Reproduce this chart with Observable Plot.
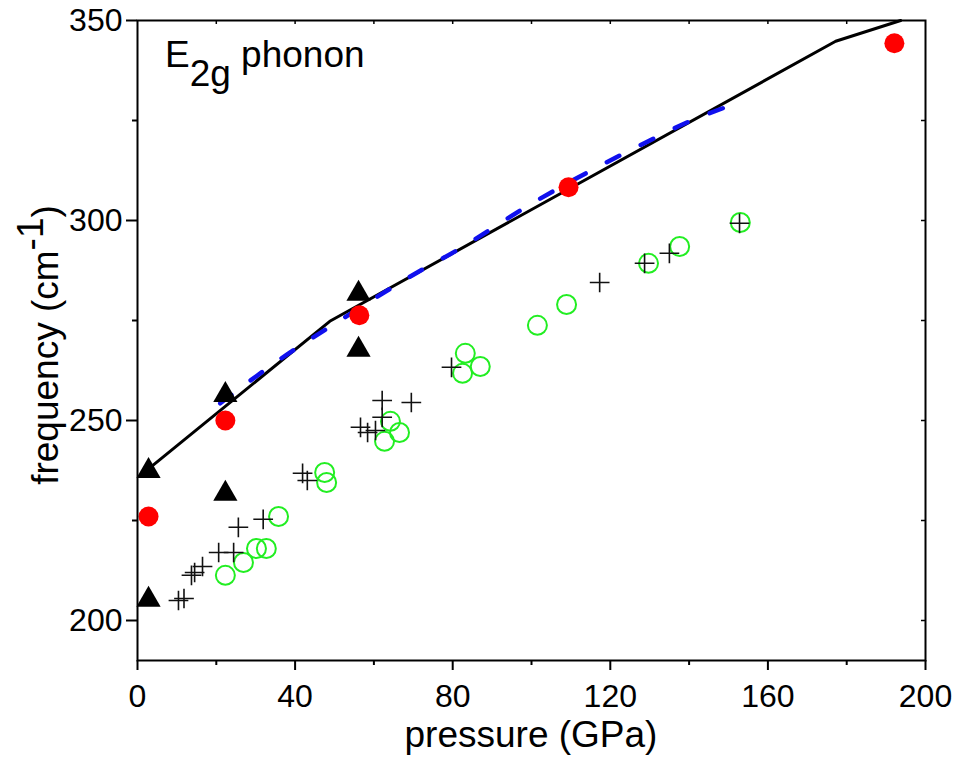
<!DOCTYPE html>
<html>
<head>
<meta charset="utf-8">
<script src="https://cdn.jsdelivr.net/npm/d3@7"></script>
<script src="https://cdn.jsdelivr.net/npm/@observablehq/plot@0.6"></script>
<style>
  html, body { margin: 0; padding: 0; background: #fff; }
  svg { display: block; }
</style>
</head>
<body>
<div id="chart"></div>
<script>
// ---- data (pressure in GPa, frequency in cm^-1) ----
const redP = [2.8, 22.3, 56.3, 109.4, 192.1];
const redF = [226.0, 250.0, 276.3, 308.3, 344.3];

const triP = [2.8, 2.8, 22.3, 22.3, 56.1, 56.1];
const triF = [237.4, 205.2, 256.4, 231.7, 281.7, 267.7];

const greenP = [22.3, 26.9, 30.2, 32.7, 35.8, 47.5, 48.0, 62.7, 64.2, 66.5, 82.5, 83.2, 87.0, 101.5, 108.9, 129.7, 137.6, 153.0];
const greenF = [211.3, 214.5, 218.0, 218.0, 226.0, 237.0, 234.5, 244.8, 249.8, 247.0, 261.8, 266.8, 263.5, 273.8, 279.0, 289.3, 293.5, 299.5];

const plusP = [10.4, 11.8, 13.7, 14.5, 16.5, 20.6, 24.4, 25.6, 31.9, 41.9, 43.1, 56.6, 58.4, 60.4, 62.1, 62.1, 69.5, 79.7, 117.3, 128.7, 135.0, 152.8];
const plusF = [205.0, 205.5, 211.3, 212.0, 213.5, 217.0, 217.0, 223.3, 225.3, 236.8, 235.0, 248.3, 247.0, 247.5, 255.0, 250.8, 254.5, 263.3, 284.5, 289.3, 291.8, 299.3];

const blackLineP = [2.8, 48.8, 177.2, 193.7];
const blackLineF = [237.9, 274.8, 344.8, 350.0];

const blueLineP = [21, 35, 52, 71, 81, 100, 119, 129, 139, 152];
const blueLineF = [254.3, 264.5, 275.4, 287.0, 292.5, 304.2, 314.5, 319.5, 324.3, 329.3];

const xMajor = [0, 40, 80, 120, 160, 200];
const xMinor = [20, 60, 100, 140, 180];
const yMajor = [200, 250, 300, 350];
const yMinor = [225, 275, 325];
const topTicks = [20, 40, 60, 80, 100, 120, 140, 160, 180];
const rightTicks = [200, 225, 250, 275, 300, 325];

const zip = (xs, ys) => xs.map((x, i) => ({x, y: ys[i]}));
const red = zip(redP, redF);
const tri = zip(triP, triF);
const green = zip(greenP, greenF);
const plus = zip(plusP, plusF);
const blackLine = zip(blackLineP, blackLineF);
const blueLine = zip(blueLineP, blueLineF);

const W = 956, H = 761;
const mL = 137, mR = 31, mT = 20, mB = 101;
const innerW = W - mL - mR, innerH = H - mT - mB;
const FONT = "'Liberation Sans', Arial, Helvetica, sans-serif";

const svg = Plot.plot({
  width: W,
  height: H,
  marginLeft: mL,
  marginRight: mR,
  marginTop: mT,
  marginBottom: mB,
  style: {fontFamily: FONT, background: "white", color: "black"},
  x: {domain: [0, 200], label: null},
  y: {domain: [190, 350], label: null},
  marks: [
    Plot.axisX({ticks: xMajor, tickSize: 10, tickPadding: 14, fontSize: 32, strokeWidth: 2, label: null}),
    Plot.axisX({ticks: xMinor, tickSize: 5, strokeWidth: 2, tickFormat: () => "", label: null}),
    Plot.axisY({ticks: yMajor, tickSize: 11, tickPadding: 4, fontSize: 32, strokeWidth: 2, label: null}),
    Plot.axisY({ticks: yMinor, tickSize: 5, strokeWidth: 2, tickFormat: () => "", label: null}),
    Plot.tickX(topTicks, {x: d => d, insetBottom: innerH - 4, stroke: "black", strokeWidth: 1.5}),
    Plot.tickY(rightTicks, {y: d => d, insetLeft: innerW - 4, stroke: "black", strokeWidth: 1.5}),
    Plot.line(blackLine, {x: "x", y: "y", stroke: "black", strokeWidth: 3}),
    Plot.line(blueLine, {x: "x", y: "y", stroke: "#1010ee", strokeWidth: 4.5, strokeDasharray: "14,24", strokeLinecap: "round", curve: "monotone-x"}),
    Plot.dot(green, {x: "x", y: "y", r: 9.5, stroke: "#22ee22", strokeWidth: 2, fill: "none"}),
    Plot.dot(plus, {x: "x", y: "y", symbol: "plus", r: 6.4, stroke: "#111", strokeWidth: 1.6}),
    Plot.dot(tri, {x: "x", y: "y", symbol: "triangle", r: 9, fill: "black", stroke: "none"}),
    Plot.dot(red, {x: "x", y: "y", r: 10, fill: "#ff0000", stroke: "none"}),
    Plot.frame({stroke: "black", strokeWidth: 2})
  ]
});

const s = d3.select(svg);

// In-plot title: E_2g phonon
const t = s.append("text")
  .attr("x", 165).attr("y", 67)
  .attr("text-anchor", "start")
  .attr("font-family", FONT).attr("font-size", 37).attr("fill", "black");
t.append("tspan").text("E");
t.append("tspan").attr("dy", 19).text("2g");
t.append("tspan").attr("dy", -19).text(" phonon");

// x-axis title
s.append("text")
  .attr("x", mL + innerW / 2).attr("y", 747)
  .attr("text-anchor", "middle")
  .attr("font-family", FONT).attr("font-size", 37).attr("fill", "black")
  .text("pressure (GPa)");

// y-axis title with superscript
const yt = s.append("text")
  .attr("transform", `translate(58, ${mT + innerH / 2 + 5}) rotate(-90)`)
  .attr("text-anchor", "middle")
  .attr("font-family", FONT).attr("font-size", 37).attr("fill", "black");
yt.append("tspan").text("frequency (cm");
yt.append("tspan").attr("dy", -15).text("-1");
yt.append("tspan").attr("dy", 15).text(")");

document.getElementById("chart").appendChild(svg);
</script>
</body>
</html>
